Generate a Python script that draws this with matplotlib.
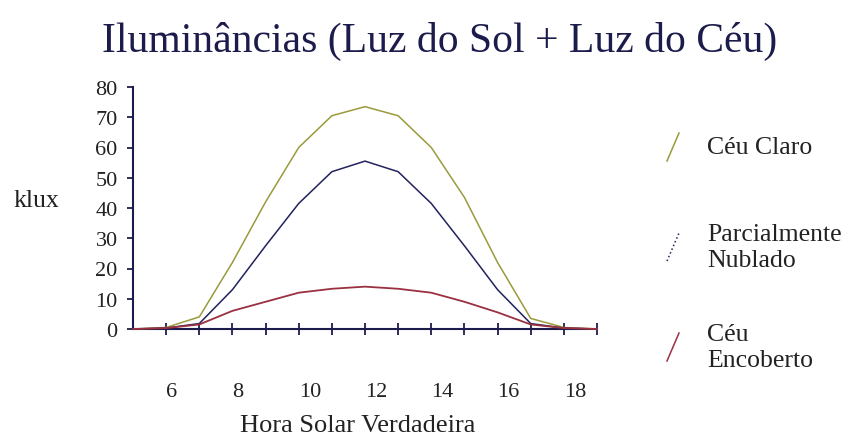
import matplotlib
matplotlib.use("Agg")
import matplotlib.pyplot as plt

# hourly illuminance (klux), true solar time 5..19
hours = list(range(5, 20))
ceu_claro = [0, 0.5, 4, 22, 42, 60, 70.5, 73.5, 70.5, 60, 43.5, 22, 3.5, 0.5, 0]
parc_nublado = [0, 0.3, 1.8, 13, 27.5, 41.5, 52, 55.5, 52, 41.5, 27.5, 13, 1.8, 0.3, 0]
ceu_encoberto = [0, 0.3, 1.5, 6, 9, 12, 13.3, 14, 13.3, 12, 9, 5.5, 1.5, 0.3, 0]

x_ticks = list(range(6, 20))
x_labels = ["6", "", "8", "", "10", "", "12", "", "14", "", "16", "", "18", ""]
y_ticks = list(range(0, 90, 10))

legend_labels = ["Céu Claro", "Parcialmente\nNublado", "Céu\nEncoberto"]

GREEN = "#9a9a3c"
BLUE = "#22225e"
RED = "#9a3040"
NAVY = "#1c1c4c"
TXT = "#222222"

plt.rcParams["font.family"] = ["Liberation Serif", "DejaVu Serif"]

fig = plt.figure(figsize=(8.54, 4.39), dpi=100)
ax = fig.add_axes([133 / 854, 1 - 330 / 439, 464 / 854, 242 / 439])

ax.plot(hours, ceu_claro, color=GREEN, lw=1.1, zorder=3, clip_on=False)
ax.plot(hours, parc_nublado, color=BLUE, lw=1.1, zorder=3, clip_on=False)
ax.plot(hours, ceu_encoberto, color=RED, lw=1.3, zorder=3, clip_on=False)

ax.set_xlim(5, 19)
ax.set_ylim(0, 80)
for s in ("top", "right"):
    ax.spines[s].set_visible(False)
for s in ("left", "bottom"):
    ax.spines[s].set_color(NAVY)
    ax.spines[s].set_linewidth(1.5)
    ax.spines[s].set_zorder(2)

ax.set_yticks(y_ticks)
ax.tick_params(axis="y", direction="out", length=4, width=1.3, color=NAVY,
               labelsize=16, pad=7, labelcolor=TXT)
ax.set_xticks(x_ticks)
ax.set_xticklabels(x_labels, ha="left")
ax.tick_params(axis="x", direction="inout", length=8, width=1.3, color=NAVY,
               labelsize=16, pad=34, labelcolor=TXT)

fig.text(440 / 854, 1 - 41 / 439, "Iluminâncias (Luz do Sol + Luz do Céu)",
         ha="center", va="center", fontsize=30, color=NAVY)
fig.text(14 / 854, 1 - 201 / 439, "klux", ha="left", va="center",
         fontsize=18.5, color=TXT)
fig.text(358 / 854, 1 - 426 / 439, "Hora Solar Verdadeira", ha="center",
         va="center", fontsize=19, color=TXT)

# hand-drawn style legend at the right
leg_colors = [GREEN, BLUE, RED]
leg_styles = ["-", ":", "-"]
leg_y = [148, 248, 348]
for lbl, col, ls, yc in zip(legend_labels, leg_colors, leg_styles, leg_y):
    fig.add_artist(plt.Line2D([667 / 854, 679 / 854],
                              [1 - (yc + 14) / 439, 1 - (yc - 14) / 439],
                              color=col, lw=1.1, ls=ls))
    fig.text(707 / 854, 1 - yc / 439, lbl, ha="left", va="center",
             fontsize=18.5, color=TXT, linespacing=1.25)

fig.savefig("out.png", dpi=100)
